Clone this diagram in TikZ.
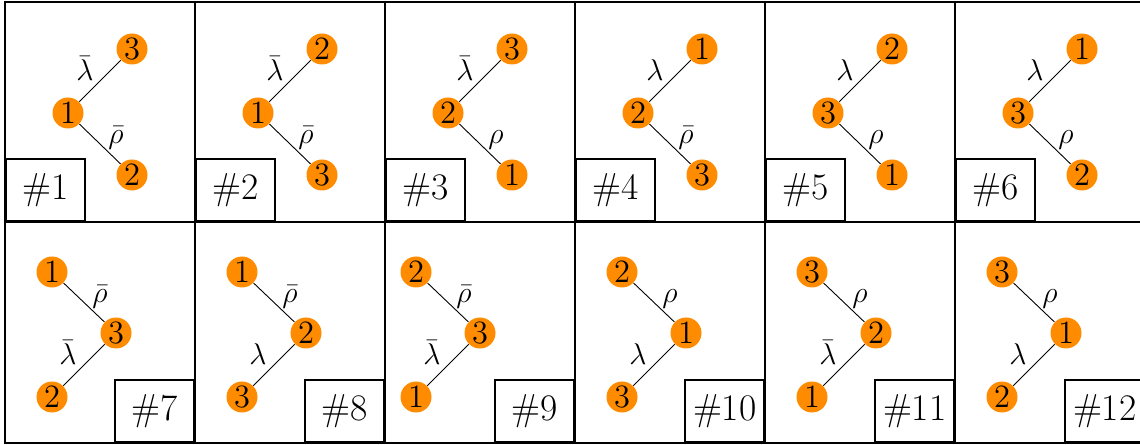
\documentclass[tikz,border=0pt]{standalone}
\definecolor{vorange}{RGB}{255,140,0}
\tikzset{
  cellline/.style={line width=0.75pt},
  vtx/.style={circle, fill=vorange, inner sep=0pt, minimum size=12.4pt, font=\fontsize{13}{13}\selectfont},
  elab/.style={anchor=base, inner sep=0pt, font=\fontsize{12}{12}\selectfont},
  tagbox/.style={draw, line width=0.65pt, minimum width=31.6pt, minimum height=24.8pt, inner sep=0pt, font=\fontsize{15}{15}\selectfont},
  linkline/.style={line width=0.36pt}
}
\begin{document}
\begin{tikzpicture}[x=0.4pt,y=-0.4pt]
\useasboundingbox (0,0) rectangle (1140,445);
\clip (0,0) rectangle (1140,445);
\fill[white] (0,0) rectangle (1140,445);
% top row
\foreach \i/\r/\t/\b/\lt/\lb in {1/1/3/2/\bar\lambda/\bar\rho, 2/1/2/3/\bar\lambda/\bar\rho, 3/2/3/1/\bar\lambda/\rho, 4/2/1/3/\lambda/\bar\rho, 5/3/2/1/\lambda/\rho, 6/3/1/2/\lambda/\rho}{
  \pgfmathsetmacro\xo{5+190*(\i-1)}
  \node[tagbox, anchor=south west] (tag\i) at (\xo,222) {\#\i};
  \node[vtx] (r\i) at (\xo+63,113) {\r};
  \node[vtx] (t\i) at (\xo+127,49) {\t};
  \node[vtx] (b\i) at (\xo+127,175) {\b};
  \draw[linkline] (r\i) -- (t\i) node[midway, elab, xshift=-6pt] (lt\i) {$\lt$};
  \draw[linkline] (r\i) -- (b\i) node[midway, elab, xshift=6.4pt] (lb\i) {$\lb$};
}
% bottom row
\foreach \i/\r/\t/\b/\lt/\lb/\dx in {7/3/1/2/\bar\rho/\bar\lambda/0, 8/2/1/3/\bar\rho/\lambda/0, 9/3/2/1/\bar\rho/\bar\lambda/-16, 10/1/2/3/\rho/\lambda/0, 11/2/3/1/\rho/\bar\lambda/0, 12/1/3/2/\rho/\lambda/0}{
  \pgfmathsetmacro\xo{5+190*(\i-7)}
  \node[tagbox, anchor=south east] (tag\i) at (\xo+190,443) {\#\i};
  \node[vtx] (r\i) at (\xo+111+\dx,333) {\r};
  \node[vtx] (t\i) at (\xo+47+\dx,272) {\t};
  \node[vtx] (b\i) at (\xo+47+\dx,397) {\b};
  \draw[linkline] (t\i) -- (r\i) node[midway, elab, xshift=6.4pt] (lt\i) {$\lt$};
  \draw[linkline] (b\i) -- (r\i) node[midway, elab, xshift=-6.4pt] (lb\i) {$\lb$};
}
% grid
\draw[cellline] (5,2) rectangle (1145,443);
\draw[cellline] (5,222) -- (1145,222);
\foreach \k in {1,...,5}{
  \draw[cellline] (5+190*\k,2) -- (5+190*\k,443);
}
\end{tikzpicture}
\end{document}
